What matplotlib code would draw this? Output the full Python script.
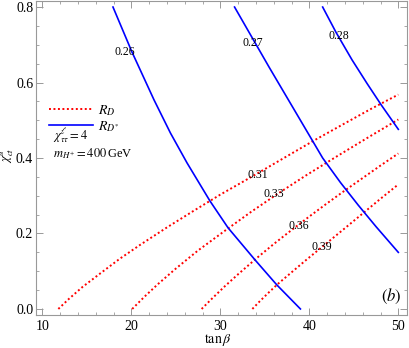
import numpy as np
import matplotlib
matplotlib.use("Agg")
import matplotlib.pyplot as plt
from matplotlib.ticker import MultipleLocator

plt.rcParams['font.family'] = ['Liberation Serif', 'DejaVu Serif']
plt.rcParams['mathtext.fontset'] = 'stix'

# R_D contours (red, dotted)
rd_031_x = [11.8, 13.0, 14.5, 16.5, 18.7, 21.0, 24.0, 27.0, 30.0, 33.5, 37.0, 40.5, 44.0, 47.0, 50.0]
rd_031_y = [0.0, 0.027, 0.058, 0.094, 0.133, 0.170, 0.216, 0.260, 0.303, 0.350, 0.398, 0.446, 0.492, 0.531, 0.568]
rd_033_x = [20.1, 21.5, 23.0, 25.0, 27.5, 30.5, 33.5, 36.5, 39.5, 43.0, 46.5, 50.0]
rd_033_y = [0.0, 0.033, 0.066, 0.107, 0.155, 0.207, 0.258, 0.306, 0.352, 0.403, 0.453, 0.502]
rd_036_x = [27.9, 29.0, 30.5, 32.0, 34.0, 36.0, 38.0, 40.0, 42.0, 44.0, 46.0, 48.0, 50.0]
rd_036_y = [0.0, 0.026, 0.060, 0.092, 0.133, 0.172, 0.209, 0.245, 0.280, 0.314, 0.347, 0.380, 0.412]
rd_039_x = [33.6, 34.5, 35.5, 36.5, 38.0, 39.5, 41.0, 42.5, 44.0, 46.0, 48.0, 50.0]
rd_039_y = [0.0, 0.022, 0.045, 0.067, 0.097, 0.127, 0.156, 0.185, 0.214, 0.253, 0.292, 0.330]

# R_D* contours (blue, solid)
rds_026_x = [17.94, 20.07, 22.55, 24.4, 26.26, 28.84, 30.87, 33.9, 36.34, 39.0]
rds_026_y = [0.800, 0.681, 0.554, 0.466, 0.387, 0.286, 0.215, 0.130, 0.064, 0.0]
rds_027_x = [31.6, 33.5, 35.5, 37.5, 39.5, 41.5, 43.5, 45.5, 47.5, 50.0]
rds_027_y = [0.800, 0.722, 0.640, 0.560, 0.480, 0.400, 0.335, 0.275, 0.218, 0.150]
rds_028_x = [41.5, 43.0, 44.8, 46.5, 48.1, 50.0]
rds_028_y = [0.800, 0.733, 0.660, 0.597, 0.540, 0.476]

# contour labels
lab_text = ['0.26', '0.27', '0.28', '0.31', '0.33', '0.36', '0.39']
lab_x = [19.24, 33.62, 43.34, 34.24, 35.98, 38.8, 41.39]
lab_y = [0.681, 0.705, 0.723, 0.355, 0.305, 0.221, 0.165]

fig = plt.figure(figsize=(4.09, 3.48), dpi=100)
ax = fig.add_axes([36/409, 33/348, 371.3/409, 314/348])

red_dot = (0, (1.0, 1.3))
ax.plot(rd_031_x, rd_031_y, color='#ff0000', lw=1.4, ls=red_dot, label=r'$R_D$')
for xs, ys in [(rd_033_x, rd_033_y), (rd_036_x, rd_036_y), (rd_039_x, rd_039_y)]:
    ax.plot(xs, ys, color='#ff0000', lw=1.4, ls=red_dot)

ax.plot(rds_026_x, rds_026_y, color='#0000ff', lw=1.2, label=r'$R_{D^{*}}$')
for xs, ys in [(rds_027_x, rds_027_y), (rds_028_x, rds_028_y)]:
    ax.plot(xs, ys, color='#0000ff', lw=1.2)

for t, x, y in zip(lab_text, lab_x, lab_y):
    ax.text(x, y, t, fontsize=8.5, ha='center', va='center')

ax.set_xlim(9.29, 51.01)
ax.set_ylim(-0.016, 0.816)
ax.xaxis.set_major_locator(MultipleLocator(10))
ax.xaxis.set_minor_locator(MultipleLocator(2))
ax.yaxis.set_major_locator(MultipleLocator(0.2))
ax.yaxis.set_minor_locator(MultipleLocator(0.05))
ax.yaxis.set_major_formatter(matplotlib.ticker.FormatStrFormatter('%.1f'))

for s in ax.spines.values():
    s.set_color('#999999')
    s.set_linewidth(0.8)
ax.tick_params(which='both', direction='in', top=True, right=True, color='#999999', labelsize=10)
ax.tick_params(which='major', length=5, width=0.7)
ax.tick_params(which='minor', length=2.5, width=0.6)
ax.tick_params(axis='y', pad=2)

ax.set_xlabel(r'$\tan\beta$', fontsize=10)
ax.xaxis.set_label_coords(0.49, -0.055)
ax.set_ylabel(r'$\chi^{u}_{ct}$', fontsize=9)
ax.yaxis.set_label_coords(-0.054, 0.51)

leg = ax.legend(loc='upper left', bbox_to_anchor=(0.035, 0.675), frameon=False,
                fontsize=10, handlelength=3.2, handletextpad=0.3, labelspacing=0.1,
                borderpad=0, borderaxespad=0)

ax.text(0.045, 0.57, r"$\chi^{\ell}_{\tau\tau}=4$", transform=ax.transAxes, fontsize=9, va='center')
ax.text(0.045, 0.515, r"$m_{H^{+}}=400\,$GeV", transform=ax.transAxes, fontsize=9, va='center')
ax.text(0.985, 0.03, r"$(b)$", transform=ax.transAxes, fontsize=12, ha='right', va='bottom')

fig.savefig('out.png', dpi=100)
